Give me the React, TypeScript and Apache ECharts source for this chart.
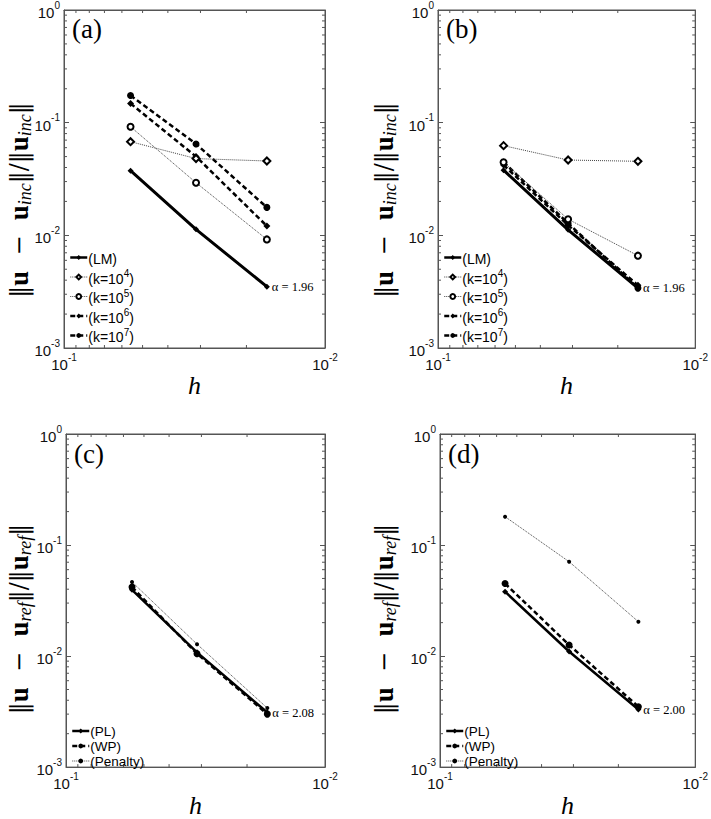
import React, { useEffect, useRef } from 'react';
import * as echarts from 'echarts';

// mesh sizes h (x axis, shared by all panels)
const H = [0.0556, 0.0312, 0.0167];

// Panel (a)
const A_LM = [0.0375, 0.0113, 0.0035];
const A_K4 = [0.0678, 0.048, 0.0457];
const A_K5 = [0.092, 0.0293, 0.0092];
const A_K6 = [0.148, 0.05, 0.0121];
const A_K7 = [0.174, 0.0647, 0.0177];
// Panel (b)
const B_LM = [0.0379, 0.0112, 0.0034];
const B_K4 = [0.0625, 0.0466, 0.0454];
const B_K5 = [0.0445, 0.0139, 0.0066];
const B_K6 = [0.042, 0.0123, 0.0036];
const B_K7 = [0.0445, 0.0128, 0.0034];
// Panel (c)
const C_PL = [0.0395, 0.0108, 0.0031];
const C_WP = [0.0418, 0.0105, 0.003];
const C_PEN = [0.0465, 0.0128, 0.0034];
// Panel (d)
const D_PL = [0.038, 0.011, 0.0033];
const D_WP = [0.045, 0.0126, 0.0035];
const D_PEN = [0.18, 0.0708, 0.0204];

const RATES = ['α = 1.96', 'α = 1.96', 'α = 2.08', 'α = 2.00'];
const PANEL_LETTERS = ['(a)', '(b)', '(c)', '(d)'];
const TOP_NAMES = ['(LM)', '(k=10^4)', '(k=10^5)', '(k=10^6)', '(k=10^7)'];
const BOTTOM_NAMES = ['(PL)', '(WP)', '(Penalty)'];

// minor tick values (log axis, 2..9 per decade)
const Y_MINOR = [
  0.002, 0.003, 0.004, 0.005, 0.006, 0.007, 0.008, 0.009,
  0.02, 0.03, 0.04, 0.05, 0.06, 0.07, 0.08, 0.09,
  0.2, 0.3, 0.4, 0.5, 0.6, 0.7, 0.8, 0.9,
];
const X_MINOR = [0.02, 0.03, 0.04, 0.05, 0.06, 0.07, 0.08, 0.09];

const GRIDS = [
  { left: 64, top: 9, width: 261, height: 339 },
  { left: 438, top: 9, width: 261, height: 339 },
  { left: 66, top: 434, width: 259, height: 339 },
  { left: 440, top: 434, width: 259, height: 339 },
];

const STYLES: Record<string, any> = {
  '(LM)': { lw: 3, type: 'solid', color: '#000', symbol: 'diamond', size: 6, hollow: false },
  '(k=10^4)': { lw: 1, type: 'dotted', color: '#444', symbol: 'emptyDiamond', size: 7, hollow: true },
  '(k=10^5)': { lw: 1, type: 'dotted', color: '#444', symbol: 'emptyCircle', size: 6, hollow: true },
  '(k=10^6)': { lw: 2.5, type: [5, 3], color: '#000', symbol: 'diamond', size: 7, hollow: false },
  '(k=10^7)': { lw: 2.5, type: [5, 3], color: '#000', symbol: 'circle', size: 7, hollow: false },
  '(PL)': { lw: 2.5, type: 'solid', color: '#000', symbol: 'diamond', size: 6, hollow: false },
  '(WP)': { lw: 2.5, type: [5, 3], color: '#000', symbol: 'circle', size: 7, hollow: false },
  '(Penalty)': { lw: 1, type: 'dotted', color: '#444', symbol: 'circle', size: 4, hollow: false },
};

const PANEL_DATA: number[][][] = [
  [A_LM, A_K4, A_K5, A_K6, A_K7],
  [B_LM, B_K4, B_K5, B_K6, B_K7],
  [C_PL, C_WP, C_PEN],
  [D_PL, D_WP, D_PEN],
];

const SANS = 'Liberation Sans';
const SERIF = 'Liberation Serif';
const AXIS_COLOR = '#555';

const tickRich = {
  b: { fontSize: 15, lineHeight: 20, verticalAlign: 'bottom', fontFamily: SANS, color: '#111' },
  sup: { fontSize: 10, lineHeight: 11, verticalAlign: 'top', fontFamily: SANS, color: '#111' },
};
const tickFmt = (v: number) => '{b|10}{sup|' + Math.round(Math.log10(v)) + '}';

function titleText(sub: string) {
  return `{n|‖}{b|u}{n|  −  }{b|u}{s|${sub}}{n|‖/‖}{b|u}{s|${sub}}{n|‖}`;
}
const titleRich = {
  n: { fontSize: 24, fontFamily: 'DejaVu Serif', lineHeight: 30, verticalAlign: 'middle', color: '#000' },
  b: { fontSize: 27, fontFamily: SERIF, fontWeight: 'bold', lineHeight: 30, verticalAlign: 'middle', color: '#000' },
  s: { fontSize: 18, fontFamily: SERIF, fontStyle: 'italic', lineHeight: 18, verticalAlign: 'bottom', color: '#000' },
};

export default function App() {
  const ref = useRef<HTMLDivElement>(null);
  useEffect(() => {
    if (!ref.current) return;
    const chart = echarts.init(ref.current, null, { renderer: 'svg' });

    const grid: any[] = [];
    const xAxis: any[] = [];
    const yAxis: any[] = [];
    const series: any[] = [];
    const legend: any[] = [];
    const graphic: any[] = [];

    GRIDS.forEach((g, gi) => {
      grid.push({ ...g, show: true, borderColor: AXIS_COLOR, borderWidth: 1, backgroundColor: '#fff' });
      const axisLine = { show: true, lineStyle: { color: AXIS_COLOR, width: 1 } };
      const tick = { show: true, inside: true, length: 5, lineStyle: { color: AXIS_COLOR } };
      xAxis.push({
        type: 'log', gridIndex: gi, position: 'bottom', inverse: true, min: 0.01, max: 0.1, logBase: 10,
        axisLine, axisTick: tick, splitLine: { show: false },
        axisLabel: { formatter: tickFmt, rich: tickRich, margin: 4, showMinLabel: true, showMaxLabel: true },
        name: 'h', nameLocation: 'middle', nameGap: 21,
        nameTextStyle: { fontFamily: SERIF, fontStyle: 'italic', fontSize: 26, color: '#000' },
      });
      xAxis.push({
        type: 'log', gridIndex: gi, position: 'top', inverse: true, min: 0.01, max: 0.1, logBase: 10,
        axisLine, axisTick: tick, splitLine: { show: false }, axisLabel: { show: false },
      });
      yAxis.push({
        type: 'log', gridIndex: gi, position: 'left', min: 0.001, max: 1, logBase: 10,
        axisLine, axisTick: tick, splitLine: { show: false },
        axisLabel: { formatter: tickFmt, rich: tickRich, margin: 4, showMinLabel: true, showMaxLabel: true },
      });
      yAxis.push({
        type: 'log', gridIndex: gi, position: 'right', min: 0.001, max: 1, logBase: 10,
        axisLine, axisTick: tick, splitLine: { show: false }, axisLabel: { show: false },
      });

      const names = gi < 2 ? TOP_NAMES : BOTTOM_NAMES;
      const data = PANEL_DATA[gi];
      names.forEach((name, si) => {
        const st = STYLES[name];
        const vals = data[si];
        const pts: any[] = H.map((h, i) => [h, vals[i]]);
        if (si === 0) {
          pts[2] = {
            value: pts[2],
            label: {
              show: true, formatter: RATES[gi], position: 'right', distance: 2,
              fontFamily: SERIF, fontSize: 12.5, color: '#000',
            },
          };
        }
        series.push({
          type: 'line', name, xAxisIndex: gi * 2, yAxisIndex: gi * 2, data: pts,
          symbol: st.symbol, symbolSize: st.size, showSymbol: true,
          lineStyle: { color: st.color, width: st.lw, type: st.type },
          itemStyle: { color: '#000', borderColor: '#000', borderWidth: st.hollow ? 2 : 0 },
          z: 10 - si,
        });
      });

      // minor ticks on all four sides
      const minorData: any[] = [
        ...Y_MINOR.map((v) => [0.05, v, 0]),
        ...X_MINOR.map((v) => [v, 0.01, 1]),
      ];
      series.push({
        type: 'custom', xAxisIndex: gi * 2, yAxisIndex: gi * 2, silent: true, clip: false,
        encode: { x: 0, y: 1 }, data: minorData, z: 1,
        renderItem: (params: any, api: any) => {
          const cs = params.coordSys;
          const kind = api.value(2);
          const p = api.coord([api.value(0), api.value(1)]);
          const len = 3;
          const style = { stroke: AXIS_COLOR, lineWidth: 1 };
          if (kind === 0) {
            return {
              type: 'group', children: [
                { type: 'line', shape: { x1: cs.x, y1: p[1], x2: cs.x + len, y2: p[1] }, style },
                { type: 'line', shape: { x1: cs.x + cs.width - len, y1: p[1], x2: cs.x + cs.width, y2: p[1] }, style },
              ],
            };
          }
          return {
            type: 'group', children: [
              { type: 'line', shape: { x1: p[0], y1: cs.y + cs.height, x2: p[0], y2: cs.y + cs.height - len }, style },
              { type: 'line', shape: { x1: p[0], y1: cs.y, x2: p[0], y2: cs.y + len }, style },
            ],
          };
        },
      });

      // legend
      const isTop = gi < 2;
      legend.push({
        orient: 'vertical',
        left: g.left + 5,
        top: isTop ? 252 : g.top + 290,
        itemWidth: 17, itemHeight: 6,
        itemGap: isTop ? 2.5 : 1,
        padding: 0,
        selectedMode: false,
        data: names.map((n) => ({ name: n, lineStyle: { width: Math.min(STYLES[n].lw, 2.5) } })),
        formatter: (n: string) => {
          const m = n.match(/^\(k=10\^(\d)\)$/);
          return m ? `{t|(k=10}{sup|${m[1]}}{t|)}` : `{t|${n}}`;
        },
        textStyle: {
          fontFamily: SANS, fontSize: isTop ? 14 : 13.5, color: '#000', padding: [0, 0, 0, -4],
          rich: {
            t: { fontFamily: SANS, fontSize: isTop ? 14 : 13.5, lineHeight: isTop ? 17 : 14, verticalAlign: 'bottom', color: '#000' },
            sup: { fontFamily: SANS, fontSize: 10, lineHeight: 10, verticalAlign: 'top', color: '#000' },
          },
        },
      });

      // panel letter
      graphic.push({
        type: 'text', left: g.left + 8, top: g.top + 6,
        style: { text: PANEL_LETTERS[gi], fontFamily: SERIF, fontSize: 27, fill: '#000' },
      });
      // y axis title
      const tx = gi % 2 === 0 ? 19 : 384;
      const ty = gi < 2 ? 200 : 619;
      graphic.push({
        type: 'text', x: tx, y: ty, rotation: Math.PI / 2,
        style: {
          text: titleText(gi < 2 ? 'inc' : 'ref'), rich: titleRich,
          align: 'center', verticalAlign: 'middle', fill: '#000',
        },
      });
    });

    chart.setOption({
      animation: false,
      backgroundColor: '#fff',
      grid, xAxis, yAxis, series, legend, graphic,
    });
    return () => chart.dispose();
  }, []);
  return (
    <div
      ref={ref}
      style={{ position: 'absolute', left: 0, top: 0, width: 711, height: 819, background: '#fff' }}
    />
  );
}
